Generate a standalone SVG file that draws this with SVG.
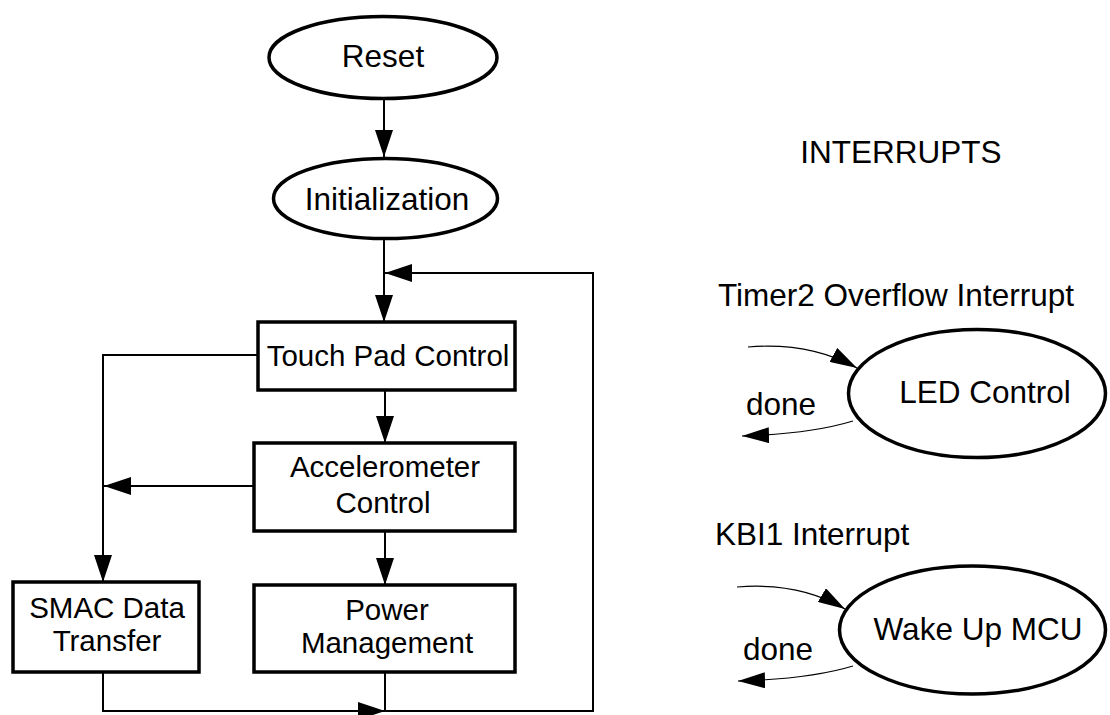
<svg xmlns="http://www.w3.org/2000/svg" width="1110" height="715" viewBox="0 0 1110 715">
<style>
  .bg { fill: #ffffff; }
  .shape { fill: #ffffff; stroke: #000000; stroke-width: 3.5; }
  .conn { fill: none; stroke: #000000; stroke-width: 2; }
  .thin { fill: none; stroke: #000000; stroke-width: 1.2; }
  text { font-family: "Liberation Sans", Arial, Helvetica, sans-serif; fill: #000000; }
  .big { font-size: 31.5px; }
  .box { font-size: 29.5px; }
  .mid { text-anchor: middle; }
</style>
<defs>
  <marker id="ah" viewBox="0 0 27 18" refX="27" refY="9" markerWidth="27" markerHeight="18" markerUnits="userSpaceOnUse" orient="auto">
    <path d="M0,0 L27,9 L0,18 z" fill="#000000"/>
  </marker>
  <marker id="ahs" viewBox="0 0 27 16" refX="27" refY="8" markerWidth="27" markerHeight="16" markerUnits="userSpaceOnUse" orient="auto">
    <path d="M0,0 L27,8 L0,16 z" fill="#000000"/>
  </marker>
</defs>
<rect class="bg" x="0" y="0" width="1110" height="715"/>

<g id="connectors">
  <path class="conn" d="M384,100 L384,157" marker-end="url(#ah)"/>
  <path class="conn" d="M384,240 L384,322" marker-end="url(#ah)"/>
  <path class="conn" d="M385,390 L385,443" marker-end="url(#ah)"/>
  <path class="conn" d="M385,531 L385,585" marker-end="url(#ah)"/>
  <path class="conn" d="M258,355 L103,355 L103,582" marker-end="url(#ah)"/>
  <path class="conn" d="M253,486 L104,486" marker-end="url(#ah)"/>
  <path class="conn" d="M103,672 L103,711 L385,711" marker-end="url(#ah)"/>
  <path class="conn" d="M385,672 L385,711 L593,711 L593,273 L385,273" marker-end="url(#ah)"/>
  <path class="thin" d="M748,347 Q810,342 857,368" marker-end="url(#ahs)"/>
  <path class="thin" d="M853,421 Q810,434 742,436" marker-end="url(#ahs)"/>
  <path class="thin" d="M737,587 Q800,582 845,609" marker-end="url(#ahs)"/>
  <path class="thin" d="M853,666 Q810,679 738,681" marker-end="url(#ahs)"/>
</g>

<g id="reset">
  <ellipse class="shape" cx="383" cy="57.5" rx="114" ry="41"/>
  <text class="big mid" x="383" y="67">Reset</text>
</g>
<g id="initialization">
  <ellipse class="shape" cx="385.5" cy="198.5" rx="112" ry="40"/>
  <text class="big mid" x="387" y="210">Initialization</text>
</g>
<g id="touch-pad-control">
  <rect class="shape" x="258" y="322" width="257" height="68"/>
  <text class="box mid" x="388" y="366">Touch Pad Control</text>
</g>
<g id="accelerometer-control">
  <rect class="shape" x="254" y="443" width="261" height="88"/>
  <text class="box mid" x="385" y="477">Accelerometer</text>
  <text class="box mid" x="383" y="513">Control</text>
</g>
<g id="smac-data-transfer">
  <rect class="shape" x="13" y="582" width="186" height="90"/>
  <text class="box mid" x="107" y="618">SMAC Data</text>
  <text class="box mid" x="107" y="651">Transfer</text>
</g>
<g id="power-management">
  <rect class="shape" x="254" y="585" width="261" height="87"/>
  <text class="box mid" x="387" y="620">Power</text>
  <text class="box mid" x="387" y="653">Management</text>
</g>

<g id="interrupts-title">
  <text class="big mid" x="901" y="163">INTERRUPTS</text>
</g>
<g id="timer2-label">
  <text class="big" x="718" y="306">Timer2 Overflow Interrupt</text>
</g>
<g id="led-control">
  <ellipse class="shape" cx="977" cy="393.5" rx="128.5" ry="64"/>
  <text class="big mid" x="985" y="403">LED Control</text>
</g>
<g id="done-1">
  <text class="big" x="746" y="415">done</text>
</g>
<g id="kbi1-label">
  <text class="big" x="715" y="545">KBI1 Interrupt</text>
</g>
<g id="wake-up-mcu">
  <ellipse class="shape" cx="972.5" cy="630" rx="133" ry="64"/>
  <text class="big mid" x="978" y="640">Wake Up MCU</text>
</g>
<g id="done-2">
  <text class="big" x="743" y="660">done</text>
</g>
</svg>
